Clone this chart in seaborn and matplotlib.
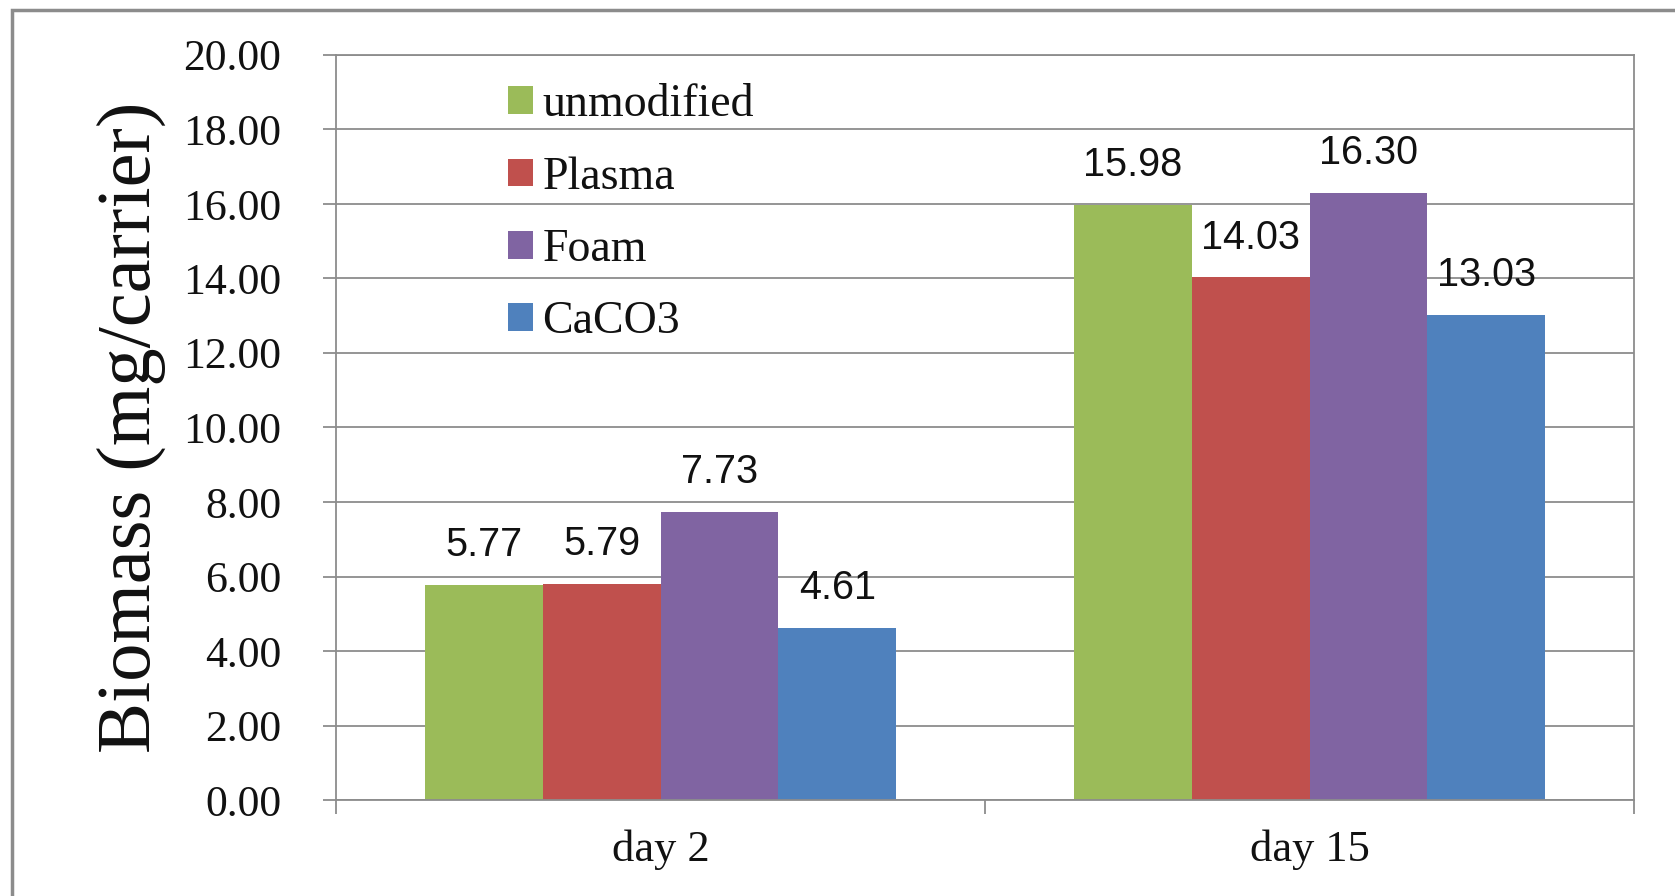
import numpy as np
import pandas as pd
import matplotlib
matplotlib.use("Agg")
import matplotlib.pyplot as plt
import seaborn as sns
from matplotlib.patches import Patch, Rectangle
from matplotlib.ticker import FixedLocator, FormatStrFormatter, NullFormatter

# --- data ---------------------------------------------------------------
days = ["day 2", "day 15"]
carriers = ["unmodified", "Plasma", "Foam", "CaCO3"]
unmodified = [5.77, 15.98]
plasma = [5.79, 14.03]
foam = [7.73, 16.30]
caco3 = [4.61, 13.03]
y_ticks = [0, 2, 4, 6, 8, 10, 12, 14, 16, 18, 20]
colors = ["#9BBB59", "#C0504D", "#8064A2", "#4F81BD"]

df = pd.DataFrame({
    "day": days * len(carriers),
    "carrier": np.repeat(carriers, len(days)),
    "biomass": unmodified + plasma + foam + caco3,
})

# --- style --------------------------------------------------------------
sns.set_style("white")
plt.rcParams["font.family"] = ["Liberation Serif", "DejaVu Serif"]
grid_gray = "#8c8c8c"

W, H = 1675, 896
fig = plt.figure(figsize=(W / 100, H / 100), dpi=100)
fig.patch.set_facecolor("white")
ax = fig.add_axes([336 / W, 1 - 800 / H, (1634 - 336) / W, (800 - 55) / H])

sns.barplot(
    data=df, x="day", y="biomass", hue="carrier",
    order=days, hue_order=carriers, palette=colors,
    width=0.727, saturation=1, errorbar=None,
    edgecolor="none", linewidth=0, legend=False, ax=ax,
)

# value labels above each bar
for cont in ax.containers:
    ax.bar_label(cont, fmt="%.2f", padding=15, fontsize=28.5,
                 family="Liberation Sans", color="#111111")

# axes limits, grid and spines
ax.set_xlim(-0.5, 1.5)
ax.set_ylim(0, 20)
ax.set_axisbelow(True)
ax.yaxis.grid(True, color=grid_gray, linewidth=1.3)
ax.xaxis.grid(False)
for side in ["left", "bottom", "right", "top"]:
    ax.spines[side].set_visible(True)
    ax.spines[side].set_color(grid_gray)
    ax.spines[side].set_linewidth(1.3)

# y axis
ax.yaxis.set_major_locator(FixedLocator(y_ticks))
ax.yaxis.set_major_formatter(FormatStrFormatter("%.2f"))
ax.tick_params(axis="y", which="major", direction="out", length=9.5,
               width=1.3, color=grid_gray, pad=30, labelsize=31.5,
               labelcolor="#111111", left=True)

# x axis: labels under categories, tick marks at category boundaries
ax.set_xticks([0, 1])
ax.set_xticklabels(days)
ax.tick_params(axis="x", which="major", length=0, pad=21, labelsize=32,
               labelcolor="#111111")
ax.xaxis.set_minor_locator(FixedLocator([-0.5, 0.5, 1.5]))
ax.xaxis.set_minor_formatter(NullFormatter())
ax.tick_params(axis="x", which="minor", direction="out", length=10,
               width=1.3, color=grid_gray, bottom=True)

ax.set_xlabel("")
ax.set_ylabel("Biomass (mg/carrier)", fontsize=55, color="#111111")
ax.yaxis.set_label_coords(-0.131, 0.5)

# legend
handles = [Patch(facecolor=c, edgecolor="none") for c in colors]
ax.legend(handles, carriers, loc="upper left",
          bbox_to_anchor=(508 / W, 1 - 84 / H), bbox_transform=fig.transFigure,
          frameon=False, borderpad=0, borderaxespad=0,
          prop={"family": "Liberation Serif", "size": 33},
          handlelength=0.55, handleheight=0.55, handletextpad=0.2,
          labelspacing=0.65, labelcolor="#111111")

# outer chart border
fig.add_artist(Rectangle((12 / W, -0.5), 2, 0.5 + 1 - 10 / H,
                         transform=fig.transFigure, fill=False,
                         edgecolor=grid_gray, linewidth=2.5, clip_on=False))

fig.savefig("out.png", dpi=100)
